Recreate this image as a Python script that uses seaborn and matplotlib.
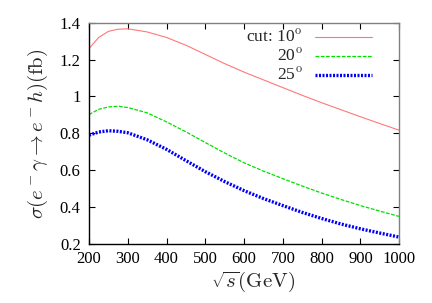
import matplotlib
matplotlib.use("Agg")
import matplotlib.pyplot as plt
import seaborn as sns
import pandas as pd

sqrt_s = [200, 225, 250, 275, 300, 350, 400, 450, 500, 550, 600, 650, 700, 750, 800, 850, 900, 950, 1000]
cut10 = [1.260, 1.320, 1.353, 1.365, 1.367, 1.350, 1.320, 1.278, 1.228, 1.178, 1.132, 1.090, 1.048, 1.006, 0.966, 0.928, 0.890, 0.853, 0.817]
cut20 = [0.902, 0.930, 0.943, 0.947, 0.940, 0.911, 0.862, 0.808, 0.750, 0.693, 0.640, 0.595, 0.554, 0.514, 0.476, 0.441, 0.408, 0.378, 0.349]
cut25 = [0.790, 0.807, 0.814, 0.811, 0.803, 0.765, 0.713, 0.652, 0.592, 0.538, 0.489, 0.446, 0.408, 0.371, 0.338, 0.308, 0.282, 0.259, 0.237]
labels = ["cut: 10$^{\\rm o}$", "20$^{\\rm o}$", "25$^{\\rm o}$"]
x_ticks = [200, 300, 400, 500, 600, 700, 800, 900, 1000]
y_ticks = [0.2, 0.4, 0.6, 0.8, 1.0, 1.2, 1.4]
y_ticklabels = ["0.2", "0.4", "0.6", "0.8", "1", "1.2", "1.4"]

sns.set_theme(style="ticks")
plt.rcParams["font.family"] = ["Liberation Serif", "DejaVu Serif"]
plt.rcParams["mathtext.fontset"] = "cm"

fig = plt.figure(figsize=(4.32, 3.03), dpi=100)
ax = fig.add_axes([0.206, 0.195, 0.718, 0.730])

styles = [
    dict(color="#ff7878", lw=0.8, ls="-"),
    dict(color="#00e000", lw=0.9, ls=(0, (3, 1.2))),
    dict(color="#0000ff", lw=2.4, ls=(0, (0.6, 0.45))),
]
for vals, lab, st in zip([cut10, cut20, cut25], labels, styles):
    df = pd.DataFrame({"x": sqrt_s, "y": vals})
    sns.lineplot(data=df, x="x", y="y", ax=ax, label=lab, color=st["color"],
                 linewidth=st["lw"], linestyle=st["ls"])

ax.set_xlim(200, 1000)
ax.set_ylim(0.2, 1.4)
ax.set_xticks(x_ticks)
ax.set_xticklabels([str(t) for t in x_ticks])
ax.set_yticks(y_ticks)
ax.set_yticklabels(y_ticklabels)
ax.tick_params(direction="in", length=4, width=0.8, top=True, right=True,
               labelsize=12, colors="black", pad=6)
ax.tick_params(axis="x", pad=5)
for side in ["left", "bottom"]:
    ax.spines[side].set_color("black")
    ax.spines[side].set_linewidth(1.0)
for side in ["top", "right"]:
    ax.spines[side].set_visible(True)
    ax.spines[side].set_color("#808080")
    ax.spines[side].set_linewidth(1.0)

ax.set_xlabel(r"$\sqrt{s}(\mathrm{GeV})$", fontsize=15)
ax.set_ylabel(r"$\sigma(e^-\gamma\rightarrow e^-h)(\mathrm{fb})$", fontsize=15)
ax.xaxis.set_label_coords(0.53, -0.118)
ax.yaxis.set_label_coords(-0.125, 0.5)

leg = ax.legend(loc="upper right", frameon=False, markerfirst=False, fontsize=12.5,
                handlelength=3.3, labelspacing=0.12, borderaxespad=0.0,
                handletextpad=0.7, bbox_to_anchor=(0.935, 1.0))
for t in leg.get_texts():
    t.set_ha("right")
leg._legend_box.align = "right"

fig.savefig("out.png", dpi=100)
